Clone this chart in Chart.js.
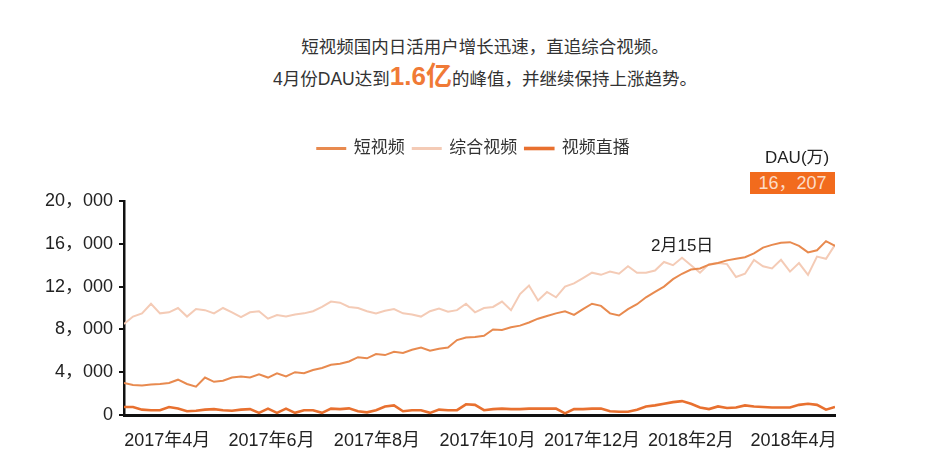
<!DOCTYPE html>
<html>
<head>
<meta charset="utf-8">
<script src="https://cdn.jsdelivr.net/npm/chart.js@4.4.1/dist/chart.umd.min.js"></script>
<style>
html, body { margin: 0; padding: 0; background: #fff; }
body { width: 933px; height: 474px; position: relative; overflow: hidden;
  font-family: "Liberation Sans", "Noto Sans CJK SC", sans-serif; color: #222; }
#wrap { position: absolute; left: 0; top: 0; width: 933px; height: 474px; }
.t { position: absolute; white-space: nowrap; }
#line1 { left: 0; width: 970px; top: 33px; text-align: center; font-size: 17.5px; color: #333; }
#line2 { left: 0; width: 970px; top: 55px; text-align: center; font-size: 17.5px; color: #333; }
#line2 b { font-size: 26px; color: #f07a36; font-weight: bold; }
#note { left: 651px; top: 231px; font-size: 17px; color: #222; }
#unit { left: 765px; top: 143px; font-size: 17px; color: #222; }
#peak { left: 750px; top: 172px; width: 85px; height: 22px; line-height: 22px; background: #f26b1d;
  color: #fcdcc7; font-size: 18px; text-align: center; }
</style>
</head>
<body>
<div class="t" id="line1">短视频国内日活用户增长迅速，直追综合视频。</div>
<div class="t" id="line2">4月份DAU达到<b>1.6亿</b>的峰值，并继续保持上涨趋势。</div>
<div id="wrap"><canvas id="chart"></canvas></div>
<div class="t" id="note">2月15日</div>
<div class="t" id="unit">DAU(万)</div>
<div class="t" id="peak">16，207</div>
<script>
// 数据：约每4~5天一个点，2017年3月到2018年4月底（单位：万）
const seriesNames = ['短视频', '综合视频', '视频直播'];

const shortVideo = [
  3000, 2800, 2750, 2850, 2900, 3000, 3300, 2900, 2650, 3500,
  3100, 3200, 3500, 3600, 3500, 3800, 3500, 3900, 3600, 4000,
  3900, 4200, 4400, 4700, 4800, 5000, 5400, 5300, 5700, 5600,
  5900, 5800, 6100, 6300, 6000, 6200, 6300, 7000, 7250, 7300,
  7400, 8000, 7950, 8200, 8350, 8650, 9000, 9250, 9500, 9700,
  9350, 9900, 10400, 10200, 9500, 9300, 9900, 10350, 11000, 11500,
  12000, 12700, 13200, 13600, 13700, 14050, 14200, 14450, 14600, 14750,
  15100, 15650, 15900, 16100, 16150, 15800, 15200, 15400, 16250, 15800
];

const generalVideo = [
  8500, 9200, 9500, 10400, 9500, 9600, 10000, 9200, 9900, 9800,
  9500, 10000, 9600, 9150, 9600, 9700, 9000, 9350, 9200, 9400,
  9500, 9700, 10100, 10600, 10500, 10100, 10000, 9700, 9500, 9750,
  9900, 9500, 9400, 9200, 9700, 9950, 9650, 9800, 10400, 9600,
  10000, 10100, 10600, 9800, 11300, 12100, 10700, 11500, 11000, 12000,
  12300, 12800, 13300, 13100, 13400, 13200, 13900, 13300, 13300, 13500,
  14300, 14000, 14700, 14000, 13300, 14100, 14200, 14100, 12900, 13200,
  14500, 13900, 13700, 14500, 13400, 14200, 13100, 14800, 14600, 15900
];

const liveVideo = [
  750, 750, 500, 450, 450, 750, 600, 350, 400, 500,
  550, 450, 400, 500, 550, 200, 600, 200, 600, 200,
  450, 450, 200, 600, 550, 620, 350, 250, 450, 800,
  900, 350, 450, 450, 200, 500, 450, 450, 1000, 950,
  450, 550, 600, 550, 550, 600, 600, 600, 600, 150,
  550, 550, 600, 600, 350, 300, 300, 500, 800, 900,
  1050, 1200, 1300, 1050, 700, 550, 800, 650, 700, 900,
  800, 750, 700, 700, 700, 950, 1050, 950, 500, 750
];

// x轴刻度：位置（数据点序号）与文字
const xTickAt = [4.8, 16.4, 28.1, 40.4, 52, 63, 74.4];
const xTickLabels = ['2017年4月', '2017年6月', '2017年8月', '2017年10月', '2017年12月', '2018年2月', '2018年4月'];
const yTickStep = 4000;
const yMax = 20000;

const colors = ['#e88a4f', '#f4cbb6', '#e8702f'];
const widths = [2, 2, 2.6];

function toPoints(arr) {
  return arr.map((v, i) => ({ x: i, y: v }));
}

function fmtY(v) {
  if (v === 0) return '0';
  return Math.floor(v / 1000) + '，000';
}

Chart.defaults.font.family = '"Liberation Sans", "Noto Sans CJK SC", sans-serif';

// 图例下方留白，并把图例挪到绘图区上方居中
const legendSpace = {
  id: 'legendSpace',
  beforeInit(chart) {
    const fit = chart.legend.fit;
    chart.legend.fit = function () {
      fit.bind(chart.legend)();
      this.height = 69;
    };
  },
  afterLayout(chart) {
    chart.legend.left = 112;
  }
};

const all = [shortVideo, generalVideo, liveVideo];
const ctx = document.getElementById('chart').getContext('2d');
const chart = new Chart(ctx, {
  type: 'line',
  data: {
    datasets: all.map((arr, k) => ({
      label: seriesNames[k],
      data: toPoints(arr),
      borderColor: colors[k],
      backgroundColor: colors[k],
      borderWidth: widths[k],
      pointRadius: 0,
      tension: 0,
      fill: false
    }))
  },
  options: {
    responsive: true,
    maintainAspectRatio: false,
    animation: false,
    layout: { padding: { left: 0, right: 98, top: 132, bottom: 0 } },
    plugins: {
      legend: {
        display: true,
        position: 'top',
        labels: {
          boxWidth: 28,
          boxHeight: 1,
          padding: 8,
          color: '#333',
          font: { size: 17 }
        }
      },
      tooltip: { enabled: false }
    },
    scales: {
      x: {
        type: 'linear',
        min: 0,
        max: shortVideo.length - 1,
        afterBuildTicks: s => { s.ticks = xTickAt.map(v => ({ value: v })); },
        afterFit: s => { s.height = 59; },
        ticks: {
          autoSkip: false,
          maxRotation: 0,
          padding: 7,
          color: '#222',
          font: { size: 18 },
          callback: (v, i) => xTickLabels[i]
        },
        grid: { display: false },
        border: { display: true, color: '#111', width: 3 }
      },
      y: {
        min: 0,
        max: yMax,
        afterFit: s => { s.width = 124; },
        ticks: {
          stepSize: yTickStep,
          padding: 6,
          color: '#222',
          font: { size: 18 },
          callback: v => fmtY(v)
        },
        grid: { display: true, drawOnChartArea: false, drawTicks: true, tickLength: 5, color: '#111', lineWidth: 2 },
        border: { display: true, color: '#111', width: 2.5 }
      }
    }
  },
  plugins: [legendSpace]
});
</script>
</body>
</html>
